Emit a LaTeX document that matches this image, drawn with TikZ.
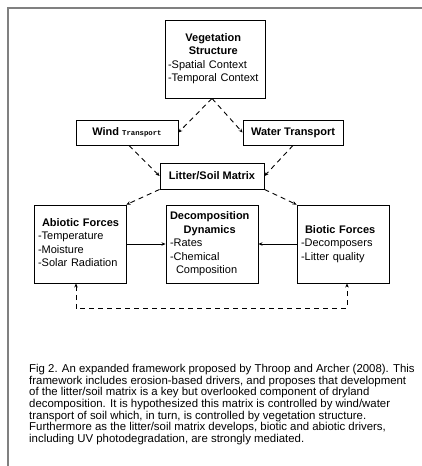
\documentclass[tikz,border=0pt]{standalone}
\usepackage{fontspec}
\setmainfont{Liberation Sans}
\newfontfamily\monofont{Liberation Mono}
\usetikzlibrary{arrows.meta}
\newcommand\boxtitle[1]{\multicolumn{1}{@{}c@{}}{\textbf{#1}}}
\begin{document}
\begin{tikzpicture}[x=1pt,y=-1pt,
  box/.style={draw, line width=0.9pt, inner ysep=0pt, align=left,
    font=\fontsize{11}{13.5}\selectfont},
  tipstyle/.style={-{Stealth[length=4pt,width=3.5pt]}},
  dasharrow/.style={line width=0.9pt, dash pattern=on 5pt off 4pt, tipstyle},
  solidarrow/.style={line width=0.9pt, tipstyle},
  frameline/.style={draw=gray, line width=2pt},
]
\useasboundingbox (0,0) rectangle (422,466);
\draw[frameline] (8,466) -- (8,8) -- (422,8);

\node[box, minimum width=100pt, minimum height=78pt, text width=94pt, inner xsep=3pt] (veg) at (215,59)
  {\begin{tabular}{@{}l@{}}\boxtitle{Vegetation}\\\boxtitle{Structure}\\-Spatial Context\\-Temporal Context\end{tabular}};
\node[box, minimum width=102pt, minimum height=25pt, align=center] (wind) at (127,132.5)
  {\textbf{Wind} {\monofont\bfseries\fontsize{7.3}{8}\selectfont Transport}};
\node[box, minimum width=100pt, minimum height=25pt, align=center] (water) at (293,132.5)
  {\textbf{Water Transport}};
\node[box, minimum width=104pt, minimum height=26pt, align=center] (litter) at (212,176)
  {\textbf{Litter/Soil Matrix}};
\node[box, minimum width=92pt, minimum height=78pt, text width=84pt, inner xsep=4pt] (abiotic) at (80,244)
  {\begin{tabular}{@{}l@{}}\boxtitle{\hspace{4pt}Abiotic Forces}\\-Temperature\\-Moisture\\-Solar Radiation\end{tabular}};
\node[box, minimum width=92pt, minimum height=78pt, text width=84pt, inner xsep=4pt] (decomp) at (212,244)
  {\begin{tabular}{@{}l@{}}\boxtitle{Decomposition}\\\boxtitle{Dynamics}\\-Rates\\-Chemical\\\hspace{6pt}Composition\end{tabular}};
\node[box, minimum width=92pt, minimum height=78pt, text width=84pt, inner xsep=4pt] (biotic) at (343,244)
  {\begin{tabular}{@{}l@{}}\boxtitle{\hspace{4pt}Biotic Forces}\\-Decomposers\\-Litter quality\end{tabular}};

\draw[dasharrow] ([xshift=-3pt]veg.south) -- (wind.east);
\draw[dasharrow] ([xshift=-3pt]veg.south) -- (water.west);
\draw[dasharrow] ([xshift=2pt]wind.south) -- (litter.west);
\draw[dasharrow] (water.south) -- (litter.east);
\draw[dasharrow] (litter.south west) -- (abiotic.north east);
\draw[dasharrow] (litter.south east) -- (biotic.north west);
\draw[solidarrow] (abiotic.east) -- (decomp.west);
\draw[solidarrow] (biotic.west) -- (decomp.east);
\draw[dasharrow, {Stealth[length=4pt,width=3.5pt]}-{Stealth[length=4pt,width=3.5pt]}]
  ([xshift=-4pt]abiotic.south) -- ++(0,25) -| ([xshift=4pt]biotic.south);

\node[anchor=north west, inner sep=0pt, align=left, font=\fontsize{11.4}{11.7}\selectfont] (cap) at (29,364)
  {Fig 2. An expanded framework proposed by Throop and Archer (2008). This\\
   framework includes erosion-based drivers, and proposes that development\\
   of the litter/soil matrix is a key but overlooked component of dryland\\
   decomposition. It is hypothesized this matrix is controlled by wind/water\\
   transport of soil which, in turn, is controlled by vegetation structure.\\
   Furthermore as the litter/soil matrix develops, biotic and abiotic drivers,\\
   including UV photodegradation, are strongly mediated.};
\end{tikzpicture}
\end{document}
